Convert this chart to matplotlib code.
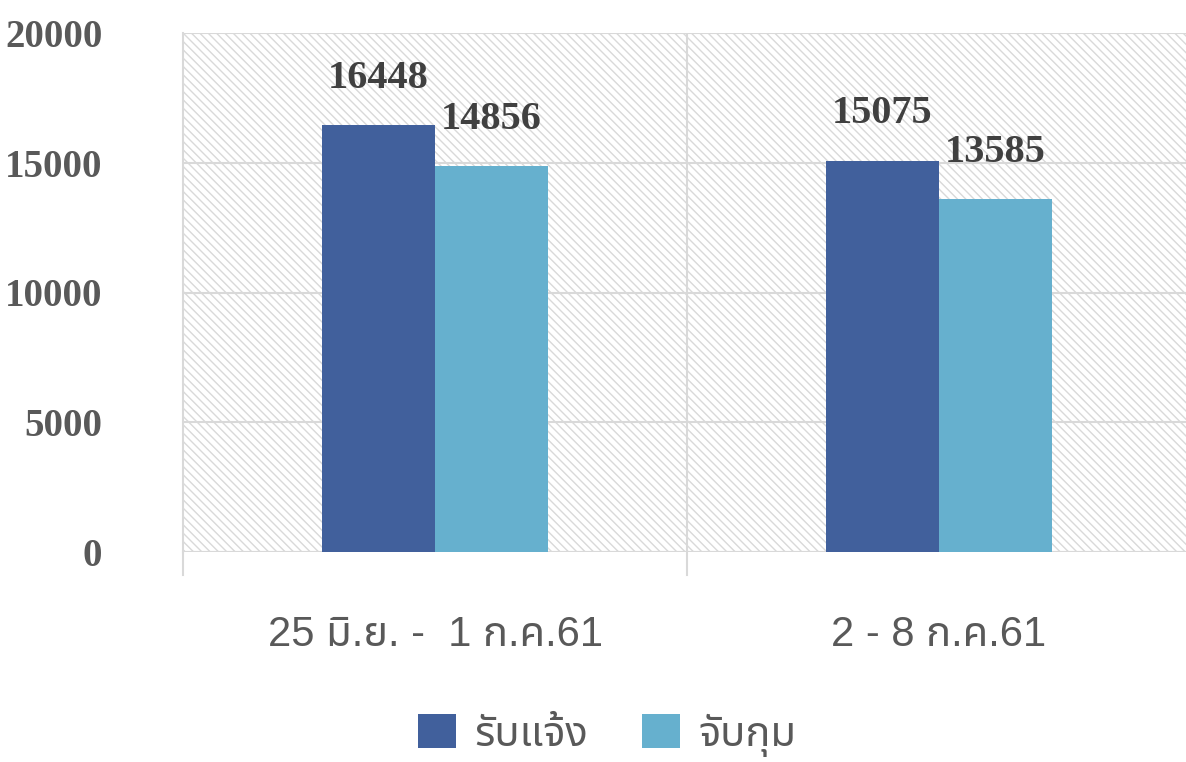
import matplotlib
matplotlib.use("Agg")
import matplotlib.pyplot as plt
from matplotlib.patches import Rectangle

# weekly figures
periods = ["25 มิ.ย. -  1 ก.ค.61", "2 - 8 ก.ค.61"]
received = [16448, 15075]
arrested = [14856, 13585]
series_names = ["รับแจ้ง", "จับกุม"]

dark = "#41609C"
light = "#66B0CE"
grid_col = "#d9d9d9"
thai = ["Liberation Sans", "Noto Sans Thai"]

plt.rcParams["hatch.linewidth"] = 1.0
plt.rcParams["hatch.color"] = "#d9d9d9"

fig = plt.figure(figsize=(11.86, 7.62), dpi=100)
ax = fig.add_axes([183 / 1186, 1 - 552 / 762, 1 - 183 / 1186, (552 - 33) / 762])

# hatched plot area background
bg = Rectangle((0, 0), 1, 1, transform=ax.transAxes, facecolor="white",
               edgecolor="#d9d9d9", hatch="\\\\\\\\", linewidth=0, zorder=0)
ax.add_patch(bg)

x = range(len(periods))
w = 0.224
b1 = ax.bar([i - w / 2 for i in x], received, w, color=dark, label=series_names[0], zorder=3)
b2 = ax.bar([i + w / 2 for i in x], arrested, w, color=light, label=series_names[1], zorder=3)

for bars in (b1, b2):
    for r in bars:
        ax.annotate(f"{int(r.get_height())}", (r.get_x() + r.get_width() / 2, r.get_height()),
                    xytext=(0, 27), textcoords="offset points", ha="center", va="baseline",
                    fontsize=29, fontweight="bold", family="Liberation Serif", color="#404040", zorder=4)

ax.set_ylim(0, 20000)
ax.set_xlim(-0.5, -0.5 + (1186 - 183) / 504)
ax.set_yticks(range(0, 20001, 5000))
ax.yaxis.grid(True, color=grid_col, linewidth=1.5)
ax.set_axisbelow(True)

for s in ["top", "right", "bottom"]:
    ax.spines[s].set_visible(False)
ax.spines["left"].set_color(grid_col)
ax.spines["left"].set_linewidth(1.5)
ax.spines["left"].set_bounds(0, 20000)

# vertical category separator and tick marks below the axis
ax.axvline(0.5, color=grid_col, linewidth=1.5, zorder=1)
for xv in (-0.5, 0.5):
    ax.plot([xv, xv], [0, -0.045], transform=ax.get_xaxis_transform(), color=grid_col,
            linewidth=1.5, clip_on=False, zorder=1)
ax.axhline(0, color=grid_col, linewidth=1.5, zorder=2)

ax.set_xticks(list(x))
ax.set_xticklabels(periods, family=thai, fontsize=30, color="#595959")
ax.tick_params(axis="x", length=0, pad=45)
ax.tick_params(axis="y", length=0, pad=58)
for t in ax.get_yticklabels():
    t.set_fontfamily("Liberation Serif")
    t.set_fontweight("bold")
    t.set_fontsize(28)
    t.set_color("#595959")

leg = fig.legend(handles=[b1, b2], labels=series_names, loc="lower center",
                 bbox_to_anchor=(0.512, -0.042), ncol=2, frameon=False,
                 prop={"family": thai, "size": 30}, handlelength=0.9, handleheight=0.9,
                 handletextpad=0.45, columnspacing=1.3)
for t in leg.get_texts():
    t.set_color("#595959")

fig.savefig("out.png", dpi=100)
